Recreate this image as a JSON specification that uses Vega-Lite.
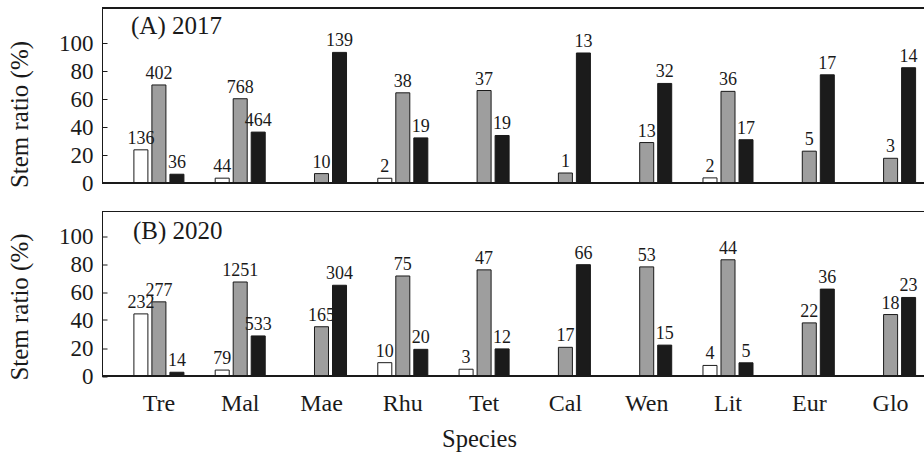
{
  "$schema": "https://vega.github.io/schema/vega-lite/v6.json",
  "padding": {"left": 6, "top": 7, "right": 0, "bottom": 0},
  "bounds": "flush",
  "spacing": 28.5,
  "config": {
    "font": "Liberation Serif",
    "view": {"stroke": null},
    "text": {"font": "Liberation Serif"},
    "title": {"font": "Liberation Serif"},
    "axis": {"grid": false, "labelFont": "Liberation Serif", "titleFont": "Liberation Serif", "labelOverlap": false, "domainColor": "#1a1a1a", "tickColor": "#1a1a1a", "labelColor": "#1a1a1a", "titleColor": "#1a1a1a", "titleFontWeight": "normal"}
  },
  "datasets": {
    "d": [
      {"year": "2017", "sp": "Tre", "cls": "w", "pct": 23.69, "n": 136},
      {"year": "2017", "sp": "Tre", "cls": "g", "pct": 70.03, "n": 402},
      {"year": "2017", "sp": "Tre", "cls": "b", "pct": 6.27, "n": 36},
      {"year": "2017", "sp": "Mal", "cls": "w", "pct": 3.45, "n": 44},
      {"year": "2017", "sp": "Mal", "cls": "g", "pct": 60.19, "n": 768},
      {"year": "2017", "sp": "Mal", "cls": "b", "pct": 36.36, "n": 464},
      {"year": "2017", "sp": "Mae", "cls": "g", "pct": 6.71, "n": 10},
      {"year": "2017", "sp": "Mae", "cls": "b", "pct": 93.29, "n": 139},
      {"year": "2017", "sp": "Rhu", "cls": "w", "pct": 3.39, "n": 2},
      {"year": "2017", "sp": "Rhu", "cls": "g", "pct": 64.41, "n": 38},
      {"year": "2017", "sp": "Rhu", "cls": "b", "pct": 32.2, "n": 19},
      {"year": "2017", "sp": "Tet", "cls": "g", "pct": 66.07, "n": 37},
      {"year": "2017", "sp": "Tet", "cls": "b", "pct": 33.93, "n": 19},
      {"year": "2017", "sp": "Cal", "cls": "g", "pct": 7.14, "n": 1},
      {"year": "2017", "sp": "Cal", "cls": "b", "pct": 92.86, "n": 13},
      {"year": "2017", "sp": "Wen", "cls": "g", "pct": 28.89, "n": 13},
      {"year": "2017", "sp": "Wen", "cls": "b", "pct": 71.11, "n": 32},
      {"year": "2017", "sp": "Lit", "cls": "w", "pct": 3.64, "n": 2},
      {"year": "2017", "sp": "Lit", "cls": "g", "pct": 65.45, "n": 36},
      {"year": "2017", "sp": "Lit", "cls": "b", "pct": 30.91, "n": 17},
      {"year": "2017", "sp": "Eur", "cls": "g", "pct": 22.73, "n": 5},
      {"year": "2017", "sp": "Eur", "cls": "b", "pct": 77.27, "n": 17},
      {"year": "2017", "sp": "Glo", "cls": "g", "pct": 17.65, "n": 3},
      {"year": "2017", "sp": "Glo", "cls": "b", "pct": 82.35, "n": 14},
      {"year": "2020", "sp": "Tre", "cls": "w", "pct": 44.36, "n": 232},
      {"year": "2020", "sp": "Tre", "cls": "g", "pct": 52.96, "n": 277},
      {"year": "2020", "sp": "Tre", "cls": "b", "pct": 2.68, "n": 14},
      {"year": "2020", "sp": "Mal", "cls": "w", "pct": 4.24, "n": 79},
      {"year": "2020", "sp": "Mal", "cls": "g", "pct": 67.15, "n": 1251},
      {"year": "2020", "sp": "Mal", "cls": "b", "pct": 28.61, "n": 533},
      {"year": "2020", "sp": "Mae", "cls": "g", "pct": 35.18, "n": 165},
      {"year": "2020", "sp": "Mae", "cls": "b", "pct": 64.82, "n": 304},
      {"year": "2020", "sp": "Rhu", "cls": "w", "pct": 9.52, "n": 10},
      {"year": "2020", "sp": "Rhu", "cls": "g", "pct": 71.43, "n": 75},
      {"year": "2020", "sp": "Rhu", "cls": "b", "pct": 19.05, "n": 20},
      {"year": "2020", "sp": "Tet", "cls": "w", "pct": 4.84, "n": 3},
      {"year": "2020", "sp": "Tet", "cls": "g", "pct": 75.81, "n": 47},
      {"year": "2020", "sp": "Tet", "cls": "b", "pct": 19.35, "n": 12},
      {"year": "2020", "sp": "Cal", "cls": "g", "pct": 20.48, "n": 17},
      {"year": "2020", "sp": "Cal", "cls": "b", "pct": 79.52, "n": 66},
      {"year": "2020", "sp": "Wen", "cls": "g", "pct": 77.94, "n": 53},
      {"year": "2020", "sp": "Wen", "cls": "b", "pct": 22.06, "n": 15},
      {"year": "2020", "sp": "Lit", "cls": "w", "pct": 7.55, "n": 4},
      {"year": "2020", "sp": "Lit", "cls": "g", "pct": 83.02, "n": 44},
      {"year": "2020", "sp": "Lit", "cls": "b", "pct": 9.43, "n": 5},
      {"year": "2020", "sp": "Eur", "cls": "g", "pct": 37.93, "n": 22},
      {"year": "2020", "sp": "Eur", "cls": "b", "pct": 62.07, "n": 36},
      {"year": "2020", "sp": "Glo", "cls": "g", "pct": 43.9, "n": 18},
      {"year": "2020", "sp": "Glo", "cls": "b", "pct": 56.1, "n": 23}
    ]
  },
  "vconcat": [
    {
      "width": 822,
      "height": 175,
      "data": {"name": "d"},
      "transform": [{"filter": "datum.year == '2017'"}],
      "title": {"text": "(A) 2017", "anchor": "start", "frame": "group", "orient": "top", "offset": -23.5, "baseline": "alphabetic", "dx": 29, "dy": 28, "fontSize": 25, "font": "Liberation Serif", "fontWeight": "normal", "color": "#1a1a1a"},
      "layer": [
        {
          "mark": {"type": "bar", "stroke": "#1a1a1a", "strokeWidth": 1},
          "encoding": {
            "x": {"field": "sp", "type": "nominal", "scale": {"domain": ["Tre","Mal","Mae","Rhu","Tet","Cal","Wen","Lit","Eur","Glo"], "range": [0, 845.5], "paddingInner": 0, "paddingOuter": 0.2}, "axis": null},
            "xOffset": {"field": "cls", "type": "nominal", "scale": {"domain": ["w","g","b"], "range": [0, 81.3], "paddingInner": 0.222, "paddingOuter": 0.868}},
            "y": {"field": "pct", "type": "quantitative", "scale": {"domain": [0, 125], "nice": false}, "axis": {"values": [0,20,40,60,80,100], "title": "Stem ratio (%)", "titleFont": "Liberation Serif", "titleFontSize": 25, "titleFontWeight": "normal", "titleBaseline": "alphabetic", "titleX": -75, "titleY": 106, "titleAngle": -90, "labelFont": "Liberation Serif", "labelFontSize": 23, "labelOverlap": false, "labelBound": false, "tickSize": -5, "labelPadding": 14, "domainWidth": 1}},
            "fill": {"field": "cls", "type": "nominal", "scale": {"domain": ["w","g","b"], "range": ["#ffffff", "#9e9e9e", "#1b1b1b"]}, "legend": null}
          }
        },
        {
          "mark": {"type": "text", "baseline": "alphabetic", "dy": -6, "fontSize": 18, "font": "Liberation Serif", "color": "#1a1a1a"},
          "encoding": {
            "x": {"field": "sp", "type": "nominal", "scale": {"domain": ["Tre","Mal","Mae","Rhu","Tet","Cal","Wen","Lit","Eur","Glo"], "range": [0, 845.5], "paddingInner": 0, "paddingOuter": 0.2}, "axis": null},
            "xOffset": {"field": "cls", "type": "nominal", "scale": {"domain": ["w","g","b"], "range": [0, 81.3], "paddingInner": 0.222, "paddingOuter": 0.868}},
            "y": {"field": "pct", "type": "quantitative", "axis": {"values": [0,20,40,60,80,100], "title": "Stem ratio (%)", "titleFont": "Liberation Serif", "titleFontSize": 25, "titleFontWeight": "normal", "titleBaseline": "alphabetic", "titleX": -75, "titleY": 106, "titleAngle": -90, "labelFont": "Liberation Serif", "labelFontSize": 23, "labelOverlap": false, "labelBound": false, "tickSize": -5, "labelPadding": 14, "domainWidth": 1}},
            "text": {"field": "n", "type": "quantitative"}
          }
        },
        {"mark": {"type": "rule", "color": "#1a1a1a", "strokeWidth": 1}, "encoding": {"y": {"datum": 0, "axis": {"values": [0,20,40,60,80,100], "title": "Stem ratio (%)", "titleFont": "Liberation Serif", "titleFontSize": 25, "titleFontWeight": "normal", "titleBaseline": "alphabetic", "titleX": -75, "titleY": 106, "titleAngle": -90, "labelFont": "Liberation Serif", "labelFontSize": 23, "labelOverlap": false, "labelBound": false, "tickSize": -5, "labelPadding": 14, "domainWidth": 1}}}},
        {"mark": {"type": "rule", "color": "#1a1a1a", "strokeWidth": 1}, "encoding": {"y": {"datum": 125, "axis": {"values": [0,20,40,60,80,100], "title": "Stem ratio (%)", "titleFont": "Liberation Serif", "titleFontSize": 25, "titleFontWeight": "normal", "titleBaseline": "alphabetic", "titleX": -75, "titleY": 106, "titleAngle": -90, "labelFont": "Liberation Serif", "labelFontSize": 23, "labelOverlap": false, "labelBound": false, "tickSize": -5, "labelPadding": 14, "domainWidth": 1}}}}
      ]
    },
    {
      "width": 822,
      "height": 164.5,
      "data": {"name": "d"},
      "transform": [{"filter": "datum.year == '2020'"}],
      "title": {"text": "(B) 2020", "anchor": "start", "frame": "group", "orient": "top", "offset": -24.5, "baseline": "alphabetic", "dx": 31, "dy": 28.5, "fontSize": 25, "font": "Liberation Serif", "fontWeight": "normal", "color": "#1a1a1a"},
      "layer": [
        {
          "mark": {"type": "bar", "stroke": "#1a1a1a", "strokeWidth": 1},
          "encoding": {
            "x": {"field": "sp", "type": "nominal", "scale": {"domain": ["Tre","Mal","Mae","Rhu","Tet","Cal","Wen","Lit","Eur","Glo"], "range": [0, 845.5], "paddingInner": 0, "paddingOuter": 0.2}, "axis": {"title": "Species", "titleFont": "Liberation Serif", "titleFontSize": 24.5, "titleBaseline": "alphabetic", "titleX": 377, "titleY": 70.7, "labelFont": "Liberation Serif", "labelFontSize": 24, "labelAngle": 0, "labelBaseline": "alphabetic", "labelPadding": 34, "ticks": false, "tickSize": 0, "domain": false}},
            "xOffset": {"field": "cls", "type": "nominal", "scale": {"domain": ["w","g","b"], "range": [0, 81.3], "paddingInner": 0.222, "paddingOuter": 0.868}},
            "y": {"field": "pct", "type": "quantitative", "scale": {"domain": [0, 117.5], "nice": false}, "axis": {"values": [0,20,40,60,80,100], "title": "Stem ratio (%)", "titleFont": "Liberation Serif", "titleFontSize": 25, "titleFontWeight": "normal", "titleBaseline": "alphabetic", "titleX": -75, "titleY": 95, "titleAngle": -90, "labelFont": "Liberation Serif", "labelFontSize": 23, "labelOverlap": false, "labelBound": false, "tickSize": -5, "labelPadding": 14, "domainWidth": 1}},
            "fill": {"field": "cls", "type": "nominal", "scale": {"domain": ["w","g","b"], "range": ["#ffffff", "#9e9e9e", "#1b1b1b"]}, "legend": null}
          }
        },
        {
          "mark": {"type": "text", "baseline": "alphabetic", "dy": -6, "fontSize": 18, "font": "Liberation Serif", "color": "#1a1a1a"},
          "encoding": {
            "x": {"field": "sp", "type": "nominal", "scale": {"domain": ["Tre","Mal","Mae","Rhu","Tet","Cal","Wen","Lit","Eur","Glo"], "range": [0, 845.5], "paddingInner": 0, "paddingOuter": 0.2}, "axis": {"title": "Species", "titleFont": "Liberation Serif", "titleFontSize": 24.5, "titleBaseline": "alphabetic", "titleX": 377, "titleY": 70.7, "labelFont": "Liberation Serif", "labelFontSize": 24, "labelAngle": 0, "labelBaseline": "alphabetic", "labelPadding": 34, "ticks": false, "tickSize": 0, "domain": false}},
            "xOffset": {"field": "cls", "type": "nominal", "scale": {"domain": ["w","g","b"], "range": [0, 81.3], "paddingInner": 0.222, "paddingOuter": 0.868}},
            "y": {"field": "pct", "type": "quantitative", "axis": {"values": [0,20,40,60,80,100], "title": "Stem ratio (%)", "titleFont": "Liberation Serif", "titleFontSize": 25, "titleFontWeight": "normal", "titleBaseline": "alphabetic", "titleX": -75, "titleY": 95, "titleAngle": -90, "labelFont": "Liberation Serif", "labelFontSize": 23, "labelOverlap": false, "labelBound": false, "tickSize": -5, "labelPadding": 14, "domainWidth": 1}},
            "text": {"field": "n", "type": "quantitative"}
          }
        },
        {"mark": {"type": "rule", "color": "#1a1a1a", "strokeWidth": 1}, "encoding": {"y": {"datum": 0, "axis": {"values": [0,20,40,60,80,100], "title": "Stem ratio (%)", "titleFont": "Liberation Serif", "titleFontSize": 25, "titleFontWeight": "normal", "titleBaseline": "alphabetic", "titleX": -75, "titleY": 95, "titleAngle": -90, "labelFont": "Liberation Serif", "labelFontSize": 23, "labelOverlap": false, "labelBound": false, "tickSize": -5, "labelPadding": 14, "domainWidth": 1}}}},
        {"mark": {"type": "rule", "color": "#1a1a1a", "strokeWidth": 1}, "encoding": {"y": {"datum": 117.5, "axis": {"values": [0,20,40,60,80,100], "title": "Stem ratio (%)", "titleFont": "Liberation Serif", "titleFontSize": 25, "titleFontWeight": "normal", "titleBaseline": "alphabetic", "titleX": -75, "titleY": 95, "titleAngle": -90, "labelFont": "Liberation Serif", "labelFontSize": 23, "labelOverlap": false, "labelBound": false, "tickSize": -5, "labelPadding": 14, "domainWidth": 1}}}}
      ]
    }
  ]
}
